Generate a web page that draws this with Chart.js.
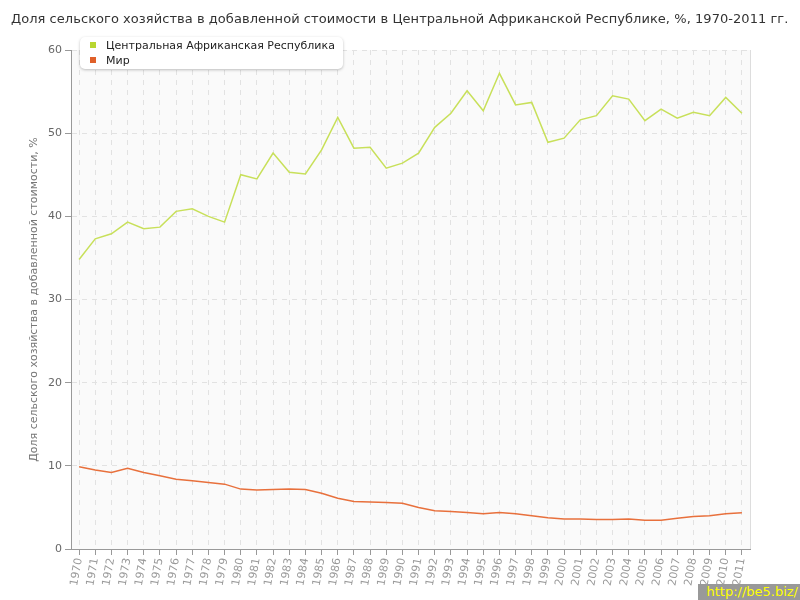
<!DOCTYPE html>
<html>
<head>
<meta charset="utf-8">
<script src="https://cdn.jsdelivr.net/npm/chart.js@4.4.1/dist/chart.umd.min.js"></script>
<style>
  body { margin: 0; background: #fff; font-family: "DejaVu Sans", Verdana, sans-serif; }
  #wrap { position: relative; width: 800px; height: 600px; }
  #title { position: absolute; left: 11px; top: 11px; font-size: 13px; letter-spacing: 0.05px; color: #333; white-space: nowrap; }
  #legend { position: absolute; left: 80px; top: 37px; width: 263px; height: 32px; background: #fff;
            border-radius: 5px; box-shadow: 0 1px 3px rgba(0,0,0,0.25); font-size: 11px; color: #222; }
  #legend div { position: relative; height: 15px; line-height: 15px; padding-left: 26px; }
  #legend span { position: absolute; left: 10px; top: 4px; width: 6px; height: 6px; }
  #mark { position: absolute; right: 0; bottom: 0; width: 100px; height: 16px; background: #999;
          color: #ff0; font-size: 13px; line-height: 16px; text-align: right; padding-right: 2px; }
</style>
</head>
<body>
<div id="wrap">
  <canvas id="chart" width="800" height="600"></canvas>
  <div id="title">Доля сельского хозяйства в добавленной стоимости в Центральной Африканской Республике, %, 1970-2011 гг.</div>
  <div id="legend">
    <div style="margin-top:1px"><span style="background:#b8d630"></span>Центральная Африканская Республика</div>
    <div><span style="background:#e0602a"></span>Мир</div>
  </div>
  <div id="mark">http://be5.biz/</div>
</div>
<script>
const years = ['1970','1971','1972','1973','1974','1975','1976','1977','1978','1979',
  '1980','1981','1982','1983','1984','1985','1986','1987','1988','1989',
  '1990','1991','1992','1993','1994','1995','1996','1997','1998','1999',
  '2000','2001','2002','2003','2004','2005','2006','2007','2008','2009','2010','2011'];

const carValues = [34.8, 37.3, 37.9, 39.3, 38.5, 38.7, 40.6, 40.9, 40.0, 39.3,
  45.0, 44.5, 47.6, 45.3, 45.1, 48.0, 51.9, 48.2, 48.3, 45.8,
  46.4, 47.6, 50.7, 52.4, 55.1, 52.7, 57.2, 53.4, 53.7, 48.9,
  49.4, 51.6, 52.1, 54.5, 54.1, 51.5, 52.9, 51.8, 52.5, 52.1, 54.3, 52.4];

const worldValues = [9.9, 9.5, 9.2, 9.7, 9.2, 8.8, 8.4, 8.2, 8.0, 7.8,
  7.2, 7.1, 7.15, 7.2, 7.15, 6.7, 6.1, 5.7, 5.65, 5.6,
  5.5, 5.0, 4.6, 4.5, 4.4, 4.25, 4.4, 4.25, 4.0, 3.75,
  3.6, 3.6, 3.55, 3.55, 3.6, 3.45, 3.45, 3.7, 3.9, 4.0, 4.25, 4.35];

const yTicks = [0, 10, 20, 30, 40, 50, 60];

// plot background and right border
const plotFrame = {
  id: 'plotFrame',
  beforeDraw(chart) {
    const a = chart.chartArea, c = chart.ctx;
    c.save();
    c.fillStyle = '#fafafa';
    c.fillRect(a.left, a.top, a.right - a.left, a.bottom - a.top);
    c.strokeStyle = '#dddddd';
    c.lineWidth = 1;
    c.beginPath();
    c.moveTo(a.right + 0.5, a.top);
    c.lineTo(a.right + 0.5, a.bottom);
    c.stroke();
    c.restore();
  }
};

new Chart(document.getElementById('chart').getContext('2d'), {
  type: 'line',
  data: {
    labels: years,
    datasets: [
      { label: 'Центральная Африканская Республика', data: carValues,
        borderColor: '#c8e05a', borderWidth: 1.5, pointRadius: 0, tension: 0 },
      { label: 'Мир', data: worldValues,
        borderColor: '#e8703c', borderWidth: 1.5, pointRadius: 0, tension: 0 }
    ]
  },
  options: {
    responsive: false,
    animation: false,
    layout: { padding: { top: 50, right: 50, bottom: 0, left: 0 } },
    plugins: { legend: { display: false }, title: { display: false }, tooltip: { enabled: false } },
    scales: {
      x: {
        offset: true,
        afterFit(s) { s.height = 51; },
        grid: { offset: false, color: '#e2e2e2', tickColor: '#999', tickLength: 6, tickBorderDash: [] },
        border: { color: '#999', width: 1, dash: [5, 5] },
        ticks: { color: '#999', font: { family: 'DejaVu Sans', size: 11 }, minRotation: 80, maxRotation: 80, autoSkip: false, padding: 2 }
      },
      y: {
        min: 0, max: 60,
        afterFit(s) { s.width = 71; },
        afterBuildTicks(s) { s.ticks = yTicks.map(v => ({ value: v })); },
        grid: { color: '#e2e2e2', tickColor: '#999', tickLength: 6, tickBorderDash: [] },
        border: { color: '#999', width: 1, dash: [5, 5] },
        ticks: { color: '#666', font: { family: 'DejaVu Sans', size: 11 }, padding: 3 },
        title: { display: true, text: 'Доля сельского хозяйства в добавленной стоимости, %',
                 color: '#777', font: { family: 'DejaVu Sans', size: 11 }, padding: { top: 28, bottom: 0 } }
      }
    }
  },
  plugins: [plotFrame]
});
</script>
</body>
</html>
